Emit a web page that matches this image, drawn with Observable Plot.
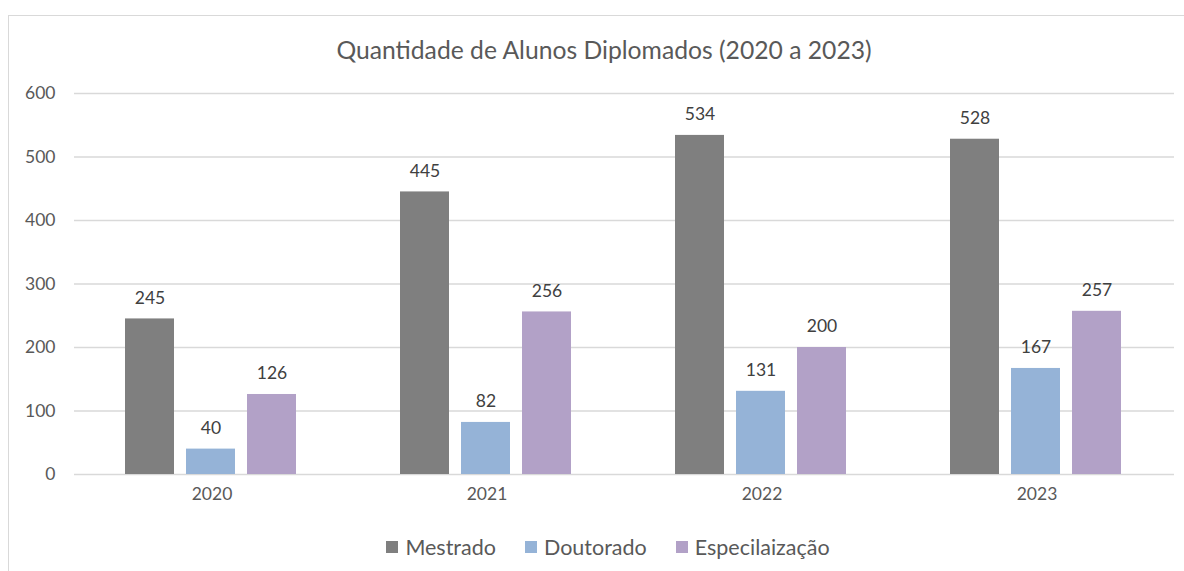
<!DOCTYPE html>
<html>
<head>
<meta charset="utf-8">
<script src="https://cdn.jsdelivr.net/npm/d3@7"></script>
<script src="https://cdn.jsdelivr.net/npm/@observablehq/plot@0.6"></script>
<style>
  body { margin: 0; background: #fff; position: relative; width: 1184px; height: 571px; overflow: hidden; font-family: Lato, "Open Sans", sans-serif; }
  #frame { position: absolute; left: 8px; top: 15px; width: 1300px; height: 700px; border: 1px solid #d9d9d9; pointer-events: none; }
  #title { padding-top: 36px; padding-left: 24px; height: 28px; line-height: 28px; text-align: center; font-size: 24.7px; color: #595959; }
  #legend { margin-top: 22px; height: 24px; line-height: 24px; font-size: 21.5px; color: #595959; display: flex; justify-content: center; padding-left: 32px; }
  .item { display: flex; align-items: center; margin: 0 14.5px; }
  .sw { width: 12px; height: 12px; margin-right: 7px; }
</style>
</head>
<body>
<div id="frame"></div>
<div id="title">Quantidade de Alunos Diplomados (2020 a 2023)</div>
<div id="chart"></div>
<div id="legend"></div>
<script>
const years = ["2020", "2021", "2022", "2023"];
const series = ["Mestrado", "Doutorado", "Especilaização"];
const mestrado = [245, 445, 534, 528];
const doutorado = [40, 82, 131, 167];
const especializacao = [126, 256, 200, 257];
const yTicks = [0, 100, 200, 300, 400, 500, 600];
const colors = ["#7f7f7f", "#95b3d7", "#b2a1c7"];

const valuesBySeries = [mestrado, doutorado, especializacao];
const data = [];
years.forEach((yr, i) => {
  series.forEach((s, j) => data.push({year: yr, series: s, value: valuesBySeries[j][i]}));
});

const chart = Plot.plot({
  width: 1184,
  height: 449,
  marginTop: 29,
  marginBottom: 39,
  marginLeft: 72,
  marginRight: 9,
  style: { fontFamily: "Lato, 'Open Sans', sans-serif", fontSize: "17.5px", color: "#595959", background: "transparent", overflow: "visible" },
  fx: { domain: years, paddingInner: 0, paddingOuter: 0, label: null, tickSize: 0, tickPadding: 13, axis: "bottom" },
  x: { domain: series, paddingInner: 0.2, paddingOuter: 0.83, axis: null },
  y: { domain: [0, 600], ticks: yTicks, tickSize: 0, tickPadding: 19, label: null, tickFormat: d => String(d) },
  color: { domain: series, range: colors },
  marks: [
    Plot.ruleY(yTicks, { stroke: "#d9d9d9", strokeWidth: 1.4 }),
    Plot.barY(data, { fx: "year", x: "series", y: "value", fill: "series", dx: -1 }),
    Plot.text(data, { fx: "year", x: "series", y: "value", text: d => String(d.value), dy: -21, dx: -1, fill: "#404040", fontSize: 17.5 })
  ]
});
document.getElementById("chart").appendChild(chart);

const legend = document.getElementById("legend");
series.forEach((s, i) => {
  const item = document.createElement("div");
  item.className = "item";
  const sw = document.createElement("div");
  sw.className = "sw";
  sw.style.background = colors[i];
  const label = document.createElement("span");
  label.textContent = s;
  item.appendChild(sw);
  item.appendChild(label);
  legend.appendChild(item);
});
</script>
</body>
</html>
